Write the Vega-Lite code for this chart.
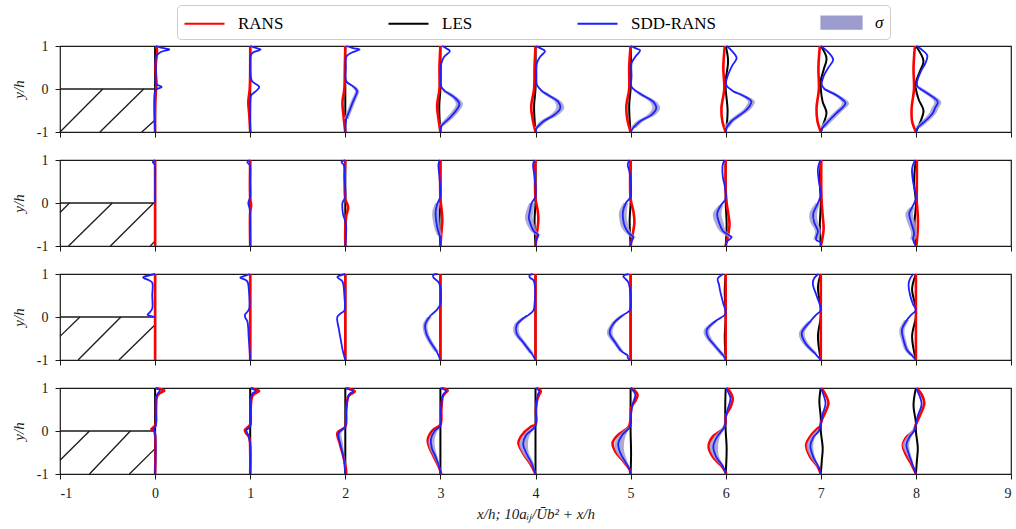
{
"$schema":"https://vega.github.io/schema/vega-lite/v6.json",
"padding":{"left":10,"top":4,"right":2,"bottom":2},
"bounds":"flush",
"spacing":28,
"datasets":{
"h":[
{"p":1,"x":-1,"y":0,"x2":0,"y2":0},{"p":1,"x":0,"y":0,"x2":0,"y2":-1},{"p":1,"x":-1,"y":-1,"x2":-0.55,"y2":0},{"p":1,"x":-0.58,"y":-1,"x2":-0.12,"y2":0},{"p":1,"x":-0.14,"y":-1,"x2":0,"y2":-0.72},
{"p":2,"x":-1,"y":0,"x2":0,"y2":0},{"p":2,"x":0,"y":0,"x2":0,"y2":-1},{"p":2,"x":-1,"y":-0.22,"x2":-0.9,"y2":0},{"p":2,"x":-0.91,"y":-1,"x2":-0.45,"y2":0},{"p":2,"x":-0.47,"y":-1,"x2":-0.015,"y2":0},{"p":2,"x":-0.05,"y":-1,"x2":0,"y2":-0.88},
{"p":3,"x":-1,"y":0,"x2":0,"y2":0},{"p":3,"x":0,"y":0,"x2":0,"y2":-1},{"p":3,"x":-1,"y":-0.45,"x2":-0.79,"y2":0},{"p":3,"x":-0.81,"y":-1,"x2":-0.36,"y2":0},{"p":3,"x":-0.38,"y":-1,"x2":0,"y2":-0.18},
{"p":4,"x":-1,"y":0,"x2":0,"y2":0},{"p":4,"x":0,"y":0,"x2":0,"y2":-1},{"p":4,"x":-1,"y":-0.68,"x2":-0.69,"y2":0},{"p":4,"x":-0.69,"y":-1,"x2":-0.26,"y2":0},{"p":4,"x":-0.27,"y":-1,"x2":0,"y2":-0.41}
],
"r1":[
{"s":0,"y":1,"x":0.01},{"s":0,"y":0.9,"x":0.02},{"s":0,"y":0.5,"x":0.005},{"s":0,"y":0.1,"x":0.015},{"s":0,"y":0,"x":0.01},{"s":0,"y":-0.5,"x":0},{"s":0,"y":-1,"x":0},
{"s":1,"y":1,"x":1},{"s":1,"y":0.5,"x":1},{"s":1,"y":0,"x":0.995},{"s":1,"y":-0.3,"x":0.98},{"s":1,"y":-0.6,"x":0.99},{"s":1,"y":-1,"x":1},
{"s":2,"y":1,"x":2},{"s":2,"y":0.5,"x":1.995},{"s":2,"y":0,"x":1.99},{"s":2,"y":-0.3,"x":1.97},{"s":2,"y":-0.6,"x":1.98},{"s":2,"y":-1,"x":2},
{"s":3,"y":1,"x":3},{"s":3,"y":0.5,"x":2.99},{"s":3,"y":0,"x":2.99},{"s":3,"y":-0.4,"x":2.965},{"s":3,"y":-0.7,"x":2.98},{"s":3,"y":-1,"x":3},
{"s":4,"y":1,"x":4},{"s":4,"y":0.5,"x":3.99},{"s":4,"y":0,"x":3.985},{"s":4,"y":-0.4,"x":3.955},{"s":4,"y":-0.7,"x":3.97},{"s":4,"y":-1,"x":4},
{"s":5,"y":1,"x":5},{"s":5,"y":0.5,"x":4.985},{"s":5,"y":0,"x":4.985},{"s":5,"y":-0.4,"x":4.955},{"s":5,"y":-0.7,"x":4.965},{"s":5,"y":-1,"x":5},
{"s":6,"y":1,"x":5.99},{"s":6,"y":0.5,"x":5.975},{"s":6,"y":0,"x":5.985},{"s":6,"y":-0.45,"x":5.955},{"s":6,"y":-0.75,"x":5.965},{"s":6,"y":-1,"x":6},
{"s":7,"y":1,"x":6.99},{"s":7,"y":0.5,"x":6.975},{"s":7,"y":0,"x":6.98},{"s":7,"y":-0.45,"x":6.955},{"s":7,"y":-0.75,"x":6.965},{"s":7,"y":-1,"x":7},
{"s":8,"y":1,"x":7.99},{"s":8,"y":0.5,"x":7.975},{"s":8,"y":0,"x":7.98},{"s":8,"y":-0.45,"x":7.955},{"s":8,"y":-0.75,"x":7.96},{"s":8,"y":-1,"x":8}
],
"l1":[
{"s":0,"y":1,"x":0},{"s":0,"y":-1,"x":0},{"s":1,"y":1,"x":1},{"s":1,"y":-1,"x":1},{"s":2,"y":1,"x":2},{"s":2,"y":-1,"x":2},
{"s":3,"y":1,"x":3},{"s":3,"y":0,"x":3},{"s":3,"y":-0.4,"x":2.988},{"s":3,"y":-1,"x":3},
{"s":4,"y":1,"x":4},{"s":4,"y":0,"x":4},{"s":4,"y":-0.4,"x":3.985},{"s":4,"y":-1,"x":4},
{"s":5,"y":1,"x":5},{"s":5,"y":0.6,"x":5.005},{"s":5,"y":0,"x":5},{"s":5,"y":-0.4,"x":4.985},{"s":5,"y":-1,"x":5},
{"s":6,"y":1,"x":6},{"s":6,"y":0.65,"x":6.025},{"s":6,"y":0.2,"x":6},{"s":6,"y":0,"x":6},{"s":6,"y":-0.5,"x":6.02},{"s":6,"y":-0.85,"x":6.01},{"s":6,"y":-1,"x":6},
{"s":7,"y":1,"x":7},{"s":7,"y":0.72,"x":7.06},{"s":7,"y":0.45,"x":7.03},{"s":7,"y":0.2,"x":7},{"s":7,"y":0,"x":7},{"s":7,"y":-0.3,"x":7.02},{"s":7,"y":-0.55,"x":7.06},{"s":7,"y":-0.8,"x":7.03},{"s":7,"y":-1,"x":7},
{"s":8,"y":1,"x":8},{"s":8,"y":0.65,"x":8.08},{"s":8,"y":0.4,"x":8.04},{"s":8,"y":0.15,"x":8},{"s":8,"y":0,"x":8},{"s":8,"y":-0.25,"x":8.03},{"s":8,"y":-0.5,"x":8.08},{"s":8,"y":-0.8,"x":8.04},{"s":8,"y":-1,"x":8}
],
"d1":[
{"s":0,"y":1,"x":0.01},{"s":0,"y":0.96,"x":0.06},{"s":0,"y":0.92,"x":0.15},{"s":0,"y":0.86,"x":0.06},{"s":0,"y":0.75,"x":0.01},{"s":0,"y":0.4,"x":0.01},{"s":0,"y":0.12,"x":0.01},{"s":0,"y":0.05,"x":0.07},{"s":0,"y":0,"x":0.02},{"s":0,"y":-0.05,"x":0},{"s":0,"y":-1,"x":0},
{"s":1,"y":1,"x":1},{"s":1,"y":0.96,"x":1.05},{"s":1,"y":0.92,"x":1.11},{"s":1,"y":0.85,"x":1.03},{"s":1,"y":0.78,"x":1.005},{"s":1,"y":0.3,"x":1.005},{"s":1,"y":0.18,"x":1.02},{"s":1,"y":0.05,"x":1.095},{"s":1,"y":-0.05,"x":1.06},{"s":1,"y":-0.15,"x":1.01},{"s":1,"y":-0.4,"x":1},{"s":1,"y":-1,"x":1},
{"s":2,"y":1,"x":2.01},{"s":2,"y":0.95,"x":2.08},{"s":2,"y":0.92,"x":2.15},{"s":2,"y":0.85,"x":2.07},{"s":2,"y":0.75,"x":2.01},{"s":2,"y":0.5,"x":2.005},{"s":2,"y":0.18,"x":2.01},{"s":2,"y":0.05,"x":2.09},{"s":2,"y":-0.05,"x":2.125},{"s":2,"y":-0.15,"x":2.11},{"s":2,"y":-0.3,"x":2.08},{"s":2,"y":-0.5,"x":2.045},{"s":2,"y":-0.7,"x":2.01},{"s":2,"y":-1,"x":2},
{"s":3,"y":1,"x":3.02},{"s":3,"y":0.95,"x":3.06},{"s":3,"y":0.88,"x":3.1},{"s":3,"y":0.75,"x":3.04},{"s":3,"y":0.6,"x":3.01},{"s":3,"y":0.3,"x":3.005},{"s":3,"y":0.05,"x":3.01},{"s":3,"y":-0.05,"x":3.05},{"s":3,"y":-0.2,"x":3.15},{"s":3,"y":-0.35,"x":3.2},{"s":3,"y":-0.5,"x":3.165},{"s":3,"y":-0.7,"x":3.085},{"s":3,"y":-0.85,"x":3.015},{"s":3,"y":-1,"x":3},
{"s":4,"y":1,"x":4},{"s":4,"y":0.95,"x":4.05},{"s":4,"y":0.88,"x":4.1},{"s":4,"y":0.75,"x":4.05},{"s":4,"y":0.6,"x":4.015},{"s":4,"y":0.3,"x":4.01},{"s":4,"y":0.1,"x":4.015},{"s":4,"y":-0.05,"x":4.07},{"s":4,"y":-0.15,"x":4.14},{"s":4,"y":-0.3,"x":4.24},{"s":4,"y":-0.45,"x":4.26},{"s":4,"y":-0.6,"x":4.2},{"s":4,"y":-0.75,"x":4.085},{"s":4,"y":-0.9,"x":4.015},{"s":4,"y":-1,"x":4},
{"s":5,"y":1,"x":5},{"s":5,"y":0.95,"x":5.05},{"s":5,"y":0.9,"x":5.1},{"s":5,"y":0.75,"x":5.05},{"s":5,"y":0.6,"x":5.01},{"s":5,"y":0.3,"x":5.01},{"s":5,"y":0.05,"x":5.01},{"s":5,"y":-0.05,"x":5.06},{"s":5,"y":-0.15,"x":5.13},{"s":5,"y":-0.3,"x":5.24},{"s":5,"y":-0.45,"x":5.27},{"s":5,"y":-0.6,"x":5.22},{"s":5,"y":-0.75,"x":5.1},{"s":5,"y":-0.9,"x":5.03},{"s":5,"y":-1,"x":5},
{"s":6,"y":1,"x":6.01},{"s":6,"y":0.9,"x":6.06},{"s":6,"y":0.72,"x":6.115},{"s":6,"y":0.55,"x":6.07},{"s":6,"y":0.3,"x":6.02},{"s":6,"y":0.1,"x":6.005},{"s":6,"y":-0.05,"x":6.08},{"s":6,"y":-0.15,"x":6.18},{"s":6,"y":-0.29,"x":6.27},{"s":6,"y":-0.4,"x":6.25},{"s":6,"y":-0.52,"x":6.2},{"s":6,"y":-0.65,"x":6.12},{"s":6,"y":-0.75,"x":6.06},{"s":6,"y":-0.9,"x":6.01},{"s":6,"y":-1,"x":6},
{"s":7,"y":1,"x":7},{"s":7,"y":0.85,"x":7.08},{"s":7,"y":0.68,"x":7.13},{"s":7,"y":0.5,"x":7.08},{"s":7,"y":0.3,"x":7.03},{"s":7,"y":0.1,"x":7.01},{"s":7,"y":0,"x":7.04},{"s":7,"y":-0.15,"x":7.17},{"s":7,"y":-0.33,"x":7.26},{"s":7,"y":-0.45,"x":7.22},{"s":7,"y":-0.55,"x":7.17},{"s":7,"y":-0.75,"x":7.08},{"s":7,"y":-0.9,"x":7.02},{"s":7,"y":-1,"x":7},
{"s":8,"y":1,"x":8.01},{"s":8,"y":0.9,"x":8.07},{"s":8,"y":0.78,"x":8.12},{"s":8,"y":0.6,"x":8.1},{"s":8,"y":0.4,"x":8.05},{"s":8,"y":0.15,"x":8.01},{"s":8,"y":0.05,"x":8.02},{"s":8,"y":-0.1,"x":8.12},{"s":8,"y":-0.3,"x":8.23},{"s":8,"y":-0.45,"x":8.2},{"s":8,"y":-0.55,"x":8.18},{"s":8,"y":-0.7,"x":8.12},{"s":8,"y":-0.78,"x":8.08},{"s":8,"y":-0.9,"x":8.02},{"s":8,"y":-1,"x":8}
],
"b1":[
{"s":2,"y":0.05,"lo":2.066,"hi":2.114},{"s":2,"y":-0.05,"lo":2.101,"hi":2.149},{"s":2,"y":-0.15,"lo":2.086,"hi":2.134},{"s":2,"y":-0.3,"lo":2.056,"hi":2.104},{"s":2,"y":-0.5,"lo":2.021,"hi":2.069},{"s":2,"y":-0.7,"lo":1.986,"hi":2.034},
{"s":3,"y":-0.05,"lo":3.018,"hi":3.082},{"s":3,"y":-0.2,"lo":3.118,"hi":3.182},{"s":3,"y":-0.35,"lo":3.163,"hi":3.237},{"s":3,"y":-0.5,"lo":3.128,"hi":3.202},{"s":3,"y":-0.7,"lo":3.048,"hi":3.122},{"s":3,"y":-0.85,"lo":2.988,"hi":3.042},
{"s":4,"y":-0.05,"lo":4.043,"hi":4.097},{"s":4,"y":-0.15,"lo":4.108,"hi":4.172},{"s":4,"y":-0.3,"lo":4.203,"hi":4.277},{"s":4,"y":-0.45,"lo":4.218,"hi":4.302},{"s":4,"y":-0.6,"lo":4.158,"hi":4.242},{"s":4,"y":-0.75,"lo":4.048,"hi":4.122},{"s":4,"y":-0.9,"lo":3.988,"hi":4.042},
{"s":5,"y":-0.05,"lo":5.033,"hi":5.087},{"s":5,"y":-0.15,"lo":5.098,"hi":5.162},{"s":5,"y":-0.3,"lo":5.203,"hi":5.277},{"s":5,"y":-0.45,"lo":5.228,"hi":5.312},{"s":5,"y":-0.6,"lo":5.178,"hi":5.262},{"s":5,"y":-0.75,"lo":5.063,"hi":5.137},{"s":5,"y":-0.9,"lo":4.998,"hi":5.062},
{"s":6,"y":-0.05,"lo":6.053,"hi":6.107},{"s":6,"y":-0.15,"lo":6.148,"hi":6.212},{"s":6,"y":-0.29,"lo":6.233,"hi":6.307},{"s":6,"y":-0.4,"lo":6.213,"hi":6.287},{"s":6,"y":-0.52,"lo":6.163,"hi":6.237},{"s":6,"y":-0.65,"lo":6.083,"hi":6.157},{"s":6,"y":-0.75,"lo":6.028,"hi":6.092},{"s":6,"y":-0.9,"lo":5.983,"hi":6.037},
{"s":7,"y":0,"lo":7.013,"hi":7.067},{"s":7,"y":-0.15,"lo":7.138,"hi":7.202},{"s":7,"y":-0.33,"lo":7.223,"hi":7.297},{"s":7,"y":-0.45,"lo":7.183,"hi":7.257},{"s":7,"y":-0.55,"lo":7.133,"hi":7.207},{"s":7,"y":-0.75,"lo":7.043,"hi":7.117},{"s":7,"y":-0.9,"lo":6.988,"hi":7.052},
{"s":8,"y":0.05,"lo":7.993,"hi":8.047},{"s":8,"y":-0.1,"lo":8.088,"hi":8.152},{"s":8,"y":-0.3,"lo":8.193,"hi":8.267},{"s":8,"y":-0.45,"lo":8.163,"hi":8.237},{"s":8,"y":-0.55,"lo":8.143,"hi":8.217},{"s":8,"y":-0.7,"lo":8.083,"hi":8.157},{"s":8,"y":-0.78,"lo":8.043,"hi":8.117},{"s":8,"y":-0.9,"lo":7.988,"hi":8.052}
],
"r2":[
{"s":0,"y":1,"x":0},{"s":0,"y":-1,"x":0},
{"s":1,"y":1,"x":1},{"s":1,"y":0.1,"x":1},{"s":1,"y":-0.05,"x":1.01},{"s":1,"y":-0.2,"x":1},{"s":1,"y":-1,"x":1},
{"s":2,"y":1,"x":2},{"s":2,"y":0.1,"x":2},{"s":2,"y":-0.1,"x":2.03},{"s":2,"y":-0.3,"x":2.01},{"s":2,"y":-0.6,"x":2},{"s":2,"y":-1,"x":2},
{"s":3,"y":1,"x":3},{"s":3,"y":0.1,"x":3},{"s":3,"y":-0.2,"x":3.015},{"s":3,"y":-0.4,"x":3.02},{"s":3,"y":-0.7,"x":3.01},{"s":3,"y":-1,"x":3},
{"s":4,"y":1,"x":4},{"s":4,"y":0.1,"x":4},{"s":4,"y":-0.2,"x":4.025},{"s":4,"y":-0.4,"x":4.03},{"s":4,"y":-0.7,"x":4.015},{"s":4,"y":-1,"x":4},
{"s":5,"y":1,"x":5},{"s":5,"y":0.1,"x":5},{"s":5,"y":-0.2,"x":5.03},{"s":5,"y":-0.45,"x":5.04},{"s":5,"y":-0.75,"x":5.02},{"s":5,"y":-1,"x":5},
{"s":6,"y":1,"x":6},{"s":6,"y":0.3,"x":6},{"s":6,"y":0,"x":6.01},{"s":6,"y":-0.3,"x":6.03},{"s":6,"y":-0.5,"x":6.04},{"s":6,"y":-0.8,"x":6.02},{"s":6,"y":-1,"x":6},
{"s":7,"y":1,"x":7.005},{"s":7,"y":0.3,"x":7.005},{"s":7,"y":0,"x":7.01},{"s":7,"y":-0.3,"x":7.02},{"s":7,"y":-0.6,"x":7.03},{"s":7,"y":-0.85,"x":7.015},{"s":7,"y":-1,"x":7},
{"s":8,"y":1,"x":8.01},{"s":8,"y":0.5,"x":8.01},{"s":8,"y":0,"x":8.01},{"s":8,"y":-0.3,"x":8.02},{"s":8,"y":-0.6,"x":8.02},{"s":8,"y":-1,"x":8.005}
],
"l2":[
{"s":0,"y":1,"x":0},{"s":0,"y":-1,"x":0},{"s":1,"y":1,"x":1},{"s":1,"y":-1,"x":1},{"s":2,"y":1,"x":2},{"s":2,"y":-1,"x":2},
{"s":3,"y":1,"x":3},{"s":3,"y":0,"x":3},{"s":3,"y":-0.4,"x":2.99},{"s":3,"y":-1,"x":3},
{"s":4,"y":1,"x":4},{"s":4,"y":0,"x":4},{"s":4,"y":-0.4,"x":3.99},{"s":4,"y":-1,"x":4},
{"s":5,"y":1,"x":5},{"s":5,"y":0,"x":5},{"s":5,"y":-0.4,"x":4.99},{"s":5,"y":-1,"x":5},
{"s":6,"y":1,"x":6},{"s":6,"y":0,"x":6},{"s":6,"y":-0.5,"x":6.01},{"s":6,"y":-1,"x":6},
{"s":7,"y":1,"x":7},{"s":7,"y":0.5,"x":6.99},{"s":7,"y":0,"x":7},{"s":7,"y":-0.5,"x":6.99},{"s":7,"y":-1,"x":7},
{"s":8,"y":1,"x":8},{"s":8,"y":0.5,"x":7.98},{"s":8,"y":0,"x":8},{"s":8,"y":-0.5,"x":7.985},{"s":8,"y":-1,"x":8}
],
"d2":[
{"s":0,"y":1,"x":0},{"s":0,"y":0.95,"x":-0.025},{"s":0,"y":0.9,"x":-0.005},{"s":0,"y":0.5,"x":0},{"s":0,"y":0,"x":0},
{"s":1,"y":1,"x":1},{"s":1,"y":0.95,"x":0.97},{"s":1,"y":0.88,"x":0.995},{"s":1,"y":0.5,"x":1},{"s":1,"y":0.15,"x":1},{"s":1,"y":0,"x":0.98},{"s":1,"y":-0.15,"x":0.995},{"s":1,"y":-1,"x":1},
{"s":2,"y":1,"x":2},{"s":2,"y":0.95,"x":1.96},{"s":2,"y":0.88,"x":1.985},{"s":2,"y":0.6,"x":1.99},{"s":2,"y":0.15,"x":2},{"s":2,"y":0,"x":1.97},{"s":2,"y":-0.15,"x":1.97},{"s":2,"y":-0.3,"x":1.98},{"s":2,"y":-0.45,"x":2.005},{"s":2,"y":-0.6,"x":2.01},{"s":2,"y":-1,"x":2},
{"s":3,"y":1,"x":2.995},{"s":3,"y":0.9,"x":2.98},{"s":3,"y":0.6,"x":2.99},{"s":3,"y":0.15,"x":3},{"s":3,"y":0,"x":2.97},{"s":3,"y":-0.2,"x":2.95},{"s":3,"y":-0.4,"x":2.955},{"s":3,"y":-0.6,"x":2.97},{"s":3,"y":-0.75,"x":2.99},{"s":3,"y":-0.85,"x":3},{"s":3,"y":-1,"x":3},
{"s":4,"y":1,"x":3.99},{"s":4,"y":0.9,"x":3.975},{"s":4,"y":0.6,"x":3.99},{"s":4,"y":0.15,"x":4},{"s":4,"y":0,"x":3.96},{"s":4,"y":-0.2,"x":3.94},{"s":4,"y":-0.35,"x":3.93},{"s":4,"y":-0.5,"x":3.95},{"s":4,"y":-0.65,"x":3.98},{"s":4,"y":-0.75,"x":4.03},{"s":4,"y":-0.85,"x":4.01},{"s":4,"y":-1,"x":4},
{"s":5,"y":1,"x":4.99},{"s":5,"y":0.9,"x":4.97},{"s":5,"y":0.7,"x":4.99},{"s":5,"y":0.15,"x":5},{"s":5,"y":0,"x":4.95},{"s":5,"y":-0.2,"x":4.92},{"s":5,"y":-0.35,"x":4.92},{"s":5,"y":-0.55,"x":4.94},{"s":5,"y":-0.7,"x":4.98},{"s":5,"y":-0.8,"x":5.03},{"s":5,"y":-0.9,"x":5.005},{"s":5,"y":-1,"x":5},
{"s":6,"y":1,"x":5.99},{"s":6,"y":0.9,"x":5.97},{"s":6,"y":0.6,"x":5.97},{"s":6,"y":0.4,"x":5.99},{"s":6,"y":0.1,"x":6},{"s":6,"y":-0.05,"x":5.95},{"s":6,"y":-0.25,"x":5.91},{"s":6,"y":-0.45,"x":5.93},{"s":6,"y":-0.65,"x":5.97},{"s":6,"y":-0.8,"x":6.06},{"s":6,"y":-0.9,"x":6.01},{"s":6,"y":-1,"x":6},
{"s":7,"y":1,"x":6.995},{"s":7,"y":0.8,"x":6.97},{"s":7,"y":0.5,"x":6.98},{"s":7,"y":0.2,"x":7},{"s":7,"y":0,"x":6.97},{"s":7,"y":-0.25,"x":6.92},{"s":7,"y":-0.45,"x":6.93},{"s":7,"y":-0.65,"x":6.97},{"s":7,"y":-0.85,"x":6.95},{"s":7,"y":-0.92,"x":7},{"s":7,"y":-1,"x":7},
{"s":8,"y":1,"x":7.99},{"s":8,"y":0.8,"x":7.96},{"s":8,"y":0.5,"x":7.97},{"s":8,"y":0.3,"x":7.99},{"s":8,"y":0.1,"x":8},{"s":8,"y":-0.1,"x":7.96},{"s":8,"y":-0.25,"x":7.93},{"s":8,"y":-0.45,"x":7.95},{"s":8,"y":-0.7,"x":7.98},{"s":8,"y":-0.85,"x":7.97},{"s":8,"y":-1,"x":8}
],
"b2":[
{"s":3,"y":0,"lo":2.945,"hi":2.995},{"s":3,"y":-0.2,"lo":2.915,"hi":2.985},{"s":3,"y":-0.4,"lo":2.92,"hi":2.99},{"s":3,"y":-0.6,"lo":2.94,"hi":3.0},{"s":3,"y":-0.75,"lo":2.965,"hi":3.015},
{"s":4,"y":0,"lo":3.935,"hi":3.985},{"s":4,"y":-0.2,"lo":3.9,"hi":3.98},{"s":4,"y":-0.35,"lo":3.89,"hi":3.97},{"s":4,"y":-0.5,"lo":3.91,"hi":3.99},{"s":4,"y":-0.65,"lo":3.95,"hi":4.01},{"s":4,"y":-0.75,"lo":4.0,"hi":4.06},
{"s":5,"y":0,"lo":4.925,"hi":4.975},{"s":5,"y":-0.2,"lo":4.88,"hi":4.96},{"s":5,"y":-0.35,"lo":4.88,"hi":4.96},{"s":5,"y":-0.55,"lo":4.9,"hi":4.98},{"s":5,"y":-0.7,"lo":4.95,"hi":5.01},{"s":5,"y":-0.8,"lo":5.0,"hi":5.06},
{"s":6,"y":-0.05,"lo":5.925,"hi":5.975},{"s":6,"y":-0.25,"lo":5.865,"hi":5.955},{"s":6,"y":-0.45,"lo":5.885,"hi":5.975},{"s":6,"y":-0.65,"lo":5.935,"hi":6.005},{"s":6,"y":-0.8,"lo":6.03,"hi":6.09},
{"s":7,"y":0,"lo":6.945,"hi":6.995},{"s":7,"y":-0.25,"lo":6.88,"hi":6.96},{"s":7,"y":-0.45,"lo":6.89,"hi":6.97},{"s":7,"y":-0.65,"lo":6.94,"hi":7.0},{"s":7,"y":-0.85,"lo":6.92,"hi":6.98},
{"s":8,"y":-0.1,"lo":7.935,"hi":7.985},{"s":8,"y":-0.25,"lo":7.89,"hi":7.97},{"s":8,"y":-0.45,"lo":7.91,"hi":7.99},{"s":8,"y":-0.7,"lo":7.95,"hi":8.01},{"s":8,"y":-0.85,"lo":7.94,"hi":8.0}
],
"r3":[
{"s":0,"y":1,"x":0},{"s":0,"y":-1,"x":0},{"s":1,"y":1,"x":1},{"s":1,"y":-1,"x":1},{"s":2,"y":1,"x":2},{"s":2,"y":-1,"x":2},{"s":3,"y":1,"x":3},{"s":3,"y":-1,"x":3},{"s":4,"y":1,"x":4},{"s":4,"y":-1,"x":4},{"s":5,"y":1,"x":5},{"s":5,"y":-1,"x":5},{"s":6,"y":1,"x":6},{"s":6,"y":-1,"x":6},{"s":7,"y":1,"x":7},{"s":7,"y":-1,"x":7},{"s":8,"y":1,"x":8},{"s":8,"y":-1,"x":8}
],
"l3":[
{"s":0,"y":1,"x":0},{"s":0,"y":-1,"x":0},{"s":1,"y":1,"x":1},{"s":1,"y":-1,"x":1},{"s":2,"y":1,"x":2},{"s":2,"y":-1,"x":2},{"s":3,"y":1,"x":3},{"s":3,"y":-1,"x":3},{"s":4,"y":1,"x":4},{"s":4,"y":-1,"x":4},{"s":5,"y":1,"x":5},{"s":5,"y":-1,"x":5},
{"s":6,"y":1,"x":6},{"s":6,"y":0.6,"x":5.99},{"s":6,"y":0,"x":6},{"s":6,"y":-0.45,"x":5.99},{"s":6,"y":-1,"x":6},
{"s":7,"y":1,"x":7},{"s":7,"y":0.7,"x":6.97},{"s":7,"y":0.2,"x":7},{"s":7,"y":0,"x":7},{"s":7,"y":-0.45,"x":6.97},{"s":7,"y":-1,"x":7},
{"s":8,"y":1,"x":8},{"s":8,"y":0.65,"x":7.96},{"s":8,"y":0.2,"x":8},{"s":8,"y":0,"x":8},{"s":8,"y":-0.45,"x":7.96},{"s":8,"y":-1,"x":8}
],
"d3":[
{"s":0,"y":1,"x":0},{"s":0,"y":0.97,"x":-0.06},{"s":0,"y":0.92,"x":-0.126},{"s":0,"y":0.85,"x":-0.06},{"s":0,"y":0.8,"x":-0.03},{"s":0,"y":0.5,"x":-0.03},{"s":0,"y":0.2,"x":-0.03},{"s":0,"y":0.1,"x":-0.06},{"s":0,"y":0.05,"x":-0.08},{"s":0,"y":0.02,"x":-0.04},{"s":0,"y":0,"x":0},
{"s":1,"y":1,"x":1},{"s":1,"y":0.96,"x":0.95},{"s":1,"y":0.92,"x":0.895},{"s":1,"y":0.85,"x":0.96},{"s":1,"y":0.8,"x":0.975},{"s":1,"y":0.5,"x":0.99},{"s":1,"y":0.2,"x":0.99},{"s":1,"y":0.12,"x":0.97},{"s":1,"y":0.05,"x":0.944},{"s":1,"y":-0.02,"x":0.95},{"s":1,"y":-0.1,"x":0.97},{"s":1,"y":-0.5,"x":0.985},{"s":1,"y":-1,"x":1},
{"s":2,"y":1,"x":2},{"s":2,"y":0.97,"x":1.95},{"s":2,"y":0.93,"x":1.916},{"s":2,"y":0.85,"x":1.96},{"s":2,"y":0.8,"x":1.975},{"s":2,"y":0.5,"x":1.99},{"s":2,"y":0.15,"x":1.99},{"s":2,"y":0.08,"x":1.95},{"s":2,"y":0,"x":1.916},{"s":2,"y":-0.3,"x":1.934},{"s":2,"y":-0.6,"x":1.958},{"s":2,"y":-0.8,"x":1.975},{"s":2,"y":-1,"x":2},
{"s":3,"y":1,"x":2.97},{"s":3,"y":0.98,"x":2.926},{"s":3,"y":0.92,"x":2.926},{"s":3,"y":0.81,"x":2.98},{"s":3,"y":0.7,"x":3},{"s":3,"y":0.3,"x":3},{"s":3,"y":0.16,"x":2.96},{"s":3,"y":0.08,"x":2.92},{"s":3,"y":0,"x":2.884},{"s":3,"y":-0.18,"x":2.84},{"s":3,"y":-0.37,"x":2.85},{"s":3,"y":-0.6,"x":2.9},{"s":3,"y":-0.8,"x":2.96},{"s":3,"y":-1,"x":3},
{"s":4,"y":1,"x":3.97},{"s":4,"y":0.97,"x":3.937},{"s":4,"y":0.92,"x":3.94},{"s":4,"y":0.85,"x":3.98},{"s":4,"y":0.62,"x":3.997},{"s":4,"y":0.3,"x":3.99},{"s":4,"y":0.16,"x":3.98},{"s":4,"y":0.05,"x":3.93},{"s":4,"y":0,"x":3.89},{"s":4,"y":-0.18,"x":3.804},{"s":4,"y":-0.37,"x":3.8},{"s":4,"y":-0.6,"x":3.874},{"s":4,"y":-0.85,"x":3.96},{"s":4,"y":-1,"x":4},
{"s":5,"y":1,"x":4.98},{"s":5,"y":0.95,"x":4.923},{"s":5,"y":0.9,"x":4.94},{"s":5,"y":0.81,"x":4.975},{"s":5,"y":0.65,"x":4.993},{"s":5,"y":0.16,"x":4.993},{"s":5,"y":0.05,"x":4.923},{"s":5,"y":-0.15,"x":4.82},{"s":5,"y":-0.37,"x":4.78},{"s":5,"y":-0.6,"x":4.84},{"s":5,"y":-0.8,"x":4.905},{"s":5,"y":-0.9,"x":4.97},{"s":5,"y":-0.95,"x":4.97},{"s":5,"y":-1,"x":5},
{"s":6,"y":1,"x":5.975},{"s":6,"y":0.89,"x":5.916},{"s":6,"y":0.75,"x":5.93},{"s":6,"y":0.62,"x":5.94},{"s":6,"y":0.31,"x":5.975},{"s":6,"y":0.08,"x":6},{"s":6,"y":-0.1,"x":5.89},{"s":6,"y":-0.3,"x":5.8},{"s":6,"y":-0.45,"x":5.81},{"s":6,"y":-0.68,"x":5.89},{"s":6,"y":-0.9,"x":5.975},{"s":6,"y":-1,"x":6},
{"s":7,"y":1,"x":6.975},{"s":7,"y":0.9,"x":6.93},{"s":7,"y":0.77,"x":6.916},{"s":7,"y":0.47,"x":6.96},{"s":7,"y":0.16,"x":7},{"s":7,"y":0.05,"x":6.95},{"s":7,"y":-0.1,"x":6.89},{"s":7,"y":-0.37,"x":6.8},{"s":7,"y":-0.6,"x":6.835},{"s":7,"y":-0.85,"x":6.94},{"s":7,"y":-1,"x":7},
{"s":8,"y":1,"x":7.975},{"s":8,"y":0.9,"x":7.94},{"s":8,"y":0.77,"x":7.923},{"s":8,"y":0.5,"x":7.94},{"s":8,"y":0.3,"x":7.97},{"s":8,"y":0.16,"x":8},{"s":8,"y":0.05,"x":7.95},{"s":8,"y":-0.07,"x":7.905},{"s":8,"y":-0.3,"x":7.853},{"s":8,"y":-0.53,"x":7.87},{"s":8,"y":-0.76,"x":7.905},{"s":8,"y":-0.9,"x":7.96},{"s":8,"y":-1,"x":8}
],
"b3":[
{"s":3,"y":0,"lo":2.86,"hi":2.91},{"s":3,"y":-0.18,"lo":2.815,"hi":2.865},{"s":3,"y":-0.37,"lo":2.825,"hi":2.875},{"s":3,"y":-0.6,"lo":2.875,"hi":2.925},{"s":3,"y":-0.8,"lo":2.935,"hi":2.985},
{"s":4,"y":0,"lo":3.865,"hi":3.915},{"s":4,"y":-0.18,"lo":3.775,"hi":3.83},{"s":4,"y":-0.37,"lo":3.77,"hi":3.83},{"s":4,"y":-0.6,"lo":3.85,"hi":3.9},{"s":4,"y":-0.85,"lo":3.935,"hi":3.985},
{"s":5,"y":0.05,"lo":4.898,"hi":4.948},{"s":5,"y":-0.15,"lo":4.795,"hi":4.845},{"s":5,"y":-0.37,"lo":4.75,"hi":4.81},{"s":5,"y":-0.6,"lo":4.815,"hi":4.865},{"s":5,"y":-0.8,"lo":4.88,"hi":4.93},
{"s":6,"y":-0.1,"lo":5.865,"hi":5.915},{"s":6,"y":-0.3,"lo":5.77,"hi":5.83},{"s":6,"y":-0.45,"lo":5.78,"hi":5.84},{"s":6,"y":-0.68,"lo":5.865,"hi":5.915},{"s":6,"y":-0.9,"lo":5.95,"hi":6.0},
{"s":7,"y":-0.1,"lo":6.865,"hi":6.915},{"s":7,"y":-0.37,"lo":6.77,"hi":6.83},{"s":7,"y":-0.6,"lo":6.805,"hi":6.865},{"s":7,"y":-0.85,"lo":6.915,"hi":6.965},
{"s":8,"y":-0.07,"lo":7.88,"hi":7.93},{"s":8,"y":-0.3,"lo":7.825,"hi":7.88},{"s":8,"y":-0.53,"lo":7.845,"hi":7.895},{"s":8,"y":-0.76,"lo":7.88,"hi":7.93},{"s":8,"y":-0.9,"lo":7.935,"hi":7.985}
],
"r4":[
{"s":0,"y":1,"x":0.01},{"s":0,"y":0.97,"x":0.06},{"s":0,"y":0.94,"x":0.098},{"s":0,"y":0.88,"x":0.05},{"s":0,"y":0.8,"x":0.02},{"s":0,"y":0.5,"x":0.01},{"s":0,"y":0.15,"x":0.005},{"s":0,"y":0.08,"x":-0.02},{"s":0,"y":0.04,"x":-0.04},{"s":0,"y":0,"x":-0.01},{"s":0,"y":-0.1,"x":0},{"s":0,"y":-1,"x":0},
{"s":1,"y":1,"x":1.01},{"s":1,"y":0.96,"x":1.06},{"s":1,"y":0.93,"x":1.095},{"s":1,"y":0.87,"x":1.05},{"s":1,"y":0.8,"x":1.02},{"s":1,"y":0.5,"x":1.005},{"s":1,"y":0.15,"x":1},{"s":1,"y":0.08,"x":0.97},{"s":1,"y":0.02,"x":0.944},{"s":1,"y":-0.06,"x":0.96},{"s":1,"y":-0.15,"x":0.99},{"s":1,"y":-0.5,"x":1},{"s":1,"y":-1,"x":1},
{"s":2,"y":1,"x":2.01},{"s":2,"y":0.96,"x":2.07},{"s":2,"y":0.92,"x":2.1},{"s":2,"y":0.86,"x":2.06},{"s":2,"y":0.8,"x":2.03},{"s":2,"y":0.5,"x":2.01},{"s":2,"y":0.1,"x":2},{"s":2,"y":0.02,"x":1.95},{"s":2,"y":-0.05,"x":1.916},{"s":2,"y":-0.28,"x":1.94},{"s":2,"y":-0.6,"x":1.98},{"s":2,"y":-0.85,"x":2.005},{"s":2,"y":-1,"x":2.01},
{"s":3,"y":1,"x":3.01},{"s":3,"y":0.97,"x":3.06},{"s":3,"y":0.94,"x":3.077},{"s":3,"y":0.88,"x":3.05},{"s":3,"y":0.8,"x":3.025},{"s":3,"y":0.5,"x":3.01},{"s":3,"y":0.15,"x":3},{"s":3,"y":0.02,"x":2.92},{"s":3,"y":-0.2,"x":2.867},{"s":3,"y":-0.36,"x":2.88},{"s":3,"y":-0.6,"x":2.93},{"s":3,"y":-0.82,"x":2.98},{"s":3,"y":-1,"x":3.01},
{"s":4,"y":1,"x":4.01},{"s":4,"y":0.96,"x":4.045},{"s":4,"y":0.92,"x":4.056},{"s":4,"y":0.85,"x":4.04},{"s":4,"y":0.7,"x":4.015},{"s":4,"y":0.5,"x":4.005},{"s":4,"y":0.15,"x":4},{"s":4,"y":0.1,"x":3.95},{"s":4,"y":-0.13,"x":3.845},{"s":4,"y":-0.28,"x":3.82},{"s":4,"y":-0.52,"x":3.87},{"s":4,"y":-0.78,"x":3.95},{"s":4,"y":-1,"x":4},
{"s":5,"y":1,"x":5},{"s":5,"y":0.95,"x":5.04},{"s":5,"y":0.84,"x":5.074},{"s":5,"y":0.7,"x":5.05},{"s":5,"y":0.55,"x":5.007},{"s":5,"y":0.3,"x":5},{"s":5,"y":0.1,"x":4.98},{"s":5,"y":-0.1,"x":4.864},{"s":5,"y":-0.28,"x":4.81},{"s":5,"y":-0.48,"x":4.84},{"s":5,"y":-0.71,"x":4.926},{"s":5,"y":-0.9,"x":4.99},{"s":5,"y":-1,"x":5},
{"s":6,"y":1,"x":6.01},{"s":6,"y":0.9,"x":6.05},{"s":6,"y":0.76,"x":6.074},{"s":6,"y":0.55,"x":6.05},{"s":6,"y":0.35,"x":6},{"s":6,"y":0.2,"x":6},{"s":6,"y":0.06,"x":5.975},{"s":6,"y":-0.13,"x":5.864},{"s":6,"y":-0.36,"x":5.82},{"s":6,"y":-0.6,"x":5.864},{"s":6,"y":-0.82,"x":5.958},{"s":6,"y":-1,"x":6.01},
{"s":7,"y":1,"x":7.005},{"s":7,"y":0.85,"x":7.05},{"s":7,"y":0.64,"x":7.08},{"s":7,"y":0.45,"x":7.05},{"s":7,"y":0.25,"x":7.01},{"s":7,"y":0.1,"x":6.99},{"s":7,"y":0.06,"x":6.965},{"s":7,"y":-0.13,"x":6.888},{"s":7,"y":-0.32,"x":6.846},{"s":7,"y":-0.6,"x":6.888},{"s":7,"y":-0.82,"x":6.965},{"s":7,"y":-1,"x":7},
{"s":8,"y":1,"x":8.01},{"s":8,"y":0.85,"x":8.06},{"s":8,"y":0.64,"x":8.088},{"s":8,"y":0.4,"x":8.05},{"s":8,"y":0.15,"x":8},{"s":8,"y":0,"x":7.975},{"s":8,"y":-0.13,"x":7.905},{"s":8,"y":-0.32,"x":7.863},{"s":8,"y":-0.52,"x":7.888},{"s":8,"y":-0.75,"x":7.947},{"s":8,"y":-0.9,"x":7.98},{"s":8,"y":-1,"x":8}
],
"l4":[
{"s":0,"y":1,"x":0},{"s":0,"y":-1,"x":0},{"s":1,"y":1,"x":1},{"s":1,"y":-1,"x":1},{"s":2,"y":1,"x":2},{"s":2,"y":-1,"x":2},{"s":3,"y":1,"x":3},{"s":3,"y":-1,"x":3},{"s":4,"y":1,"x":4},{"s":4,"y":-1,"x":4},
{"s":5,"y":1,"x":5},{"s":5,"y":0,"x":5},{"s":5,"y":-0.5,"x":5.005},{"s":5,"y":-1,"x":5},
{"s":6,"y":1,"x":6},{"s":6,"y":0.5,"x":5.995},{"s":6,"y":0,"x":6},{"s":6,"y":-0.4,"x":6.01},{"s":6,"y":-1,"x":6},
{"s":7,"y":1,"x":7},{"s":7,"y":0.7,"x":6.985},{"s":7,"y":0.3,"x":7},{"s":7,"y":0,"x":7},{"s":7,"y":-0.4,"x":7.02},{"s":7,"y":-0.7,"x":7.01},{"s":7,"y":-1,"x":7},
{"s":8,"y":1,"x":8},{"s":8,"y":0.6,"x":7.975},{"s":8,"y":0.2,"x":8},{"s":8,"y":0,"x":8},{"s":8,"y":-0.4,"x":8.02},{"s":8,"y":-0.7,"x":8.01},{"s":8,"y":-1,"x":8}
],
"d4":[
{"s":0,"y":1,"x":0.005},{"s":0,"y":0.94,"x":0.05},{"s":0,"y":0.88,"x":0.03},{"s":0,"y":0.8,"x":0.01},{"s":0,"y":0.1,"x":0.005},{"s":0,"y":0.04,"x":-0.02},{"s":0,"y":0,"x":-0.005},{"s":0,"y":-1,"x":0},
{"s":1,"y":1,"x":1.005},{"s":1,"y":0.93,"x":1.06},{"s":1,"y":0.86,"x":1.02},{"s":1,"y":0.5,"x":1.005},{"s":1,"y":0.1,"x":1},{"s":1,"y":0.02,"x":0.96},{"s":1,"y":-0.1,"x":0.98},{"s":1,"y":-0.3,"x":1},{"s":1,"y":-1,"x":1},
{"s":2,"y":1,"x":2},{"s":2,"y":0.92,"x":2.08},{"s":2,"y":0.85,"x":2.04},{"s":2,"y":0.5,"x":2.01},{"s":2,"y":0.1,"x":2},{"s":2,"y":-0.05,"x":1.93},{"s":2,"y":-0.28,"x":1.945},{"s":2,"y":-0.6,"x":1.98},{"s":2,"y":-1,"x":2},
{"s":3,"y":1,"x":3},{"s":3,"y":0.93,"x":3.06},{"s":3,"y":0.85,"x":3.03},{"s":3,"y":0.5,"x":3.005},{"s":3,"y":0.12,"x":3},{"s":3,"y":0,"x":2.94},{"s":3,"y":-0.2,"x":2.9},{"s":3,"y":-0.4,"x":2.91},{"s":3,"y":-0.6,"x":2.95},{"s":3,"y":-0.85,"x":2.99},{"s":3,"y":-1,"x":3},
{"s":4,"y":1,"x":4},{"s":4,"y":0.93,"x":4.04},{"s":4,"y":0.85,"x":4.025},{"s":4,"y":0.5,"x":4.005},{"s":4,"y":0.12,"x":4},{"s":4,"y":-0.1,"x":3.9},{"s":4,"y":-0.3,"x":3.87},{"s":4,"y":-0.5,"x":3.9},{"s":4,"y":-0.75,"x":3.96},{"s":4,"y":-1,"x":4},
{"s":5,"y":1,"x":5},{"s":5,"y":0.85,"x":5.05},{"s":5,"y":0.65,"x":5.025},{"s":5,"y":0.4,"x":5.005},{"s":5,"y":0.12,"x":5},{"s":5,"y":-0.1,"x":4.91},{"s":5,"y":-0.3,"x":4.87},{"s":5,"y":-0.5,"x":4.89},{"s":5,"y":-0.7,"x":4.94},{"s":5,"y":-0.9,"x":4.99},{"s":5,"y":-1,"x":5},
{"s":6,"y":1,"x":6},{"s":6,"y":0.76,"x":6.05},{"s":6,"y":0.5,"x":6.02},{"s":6,"y":0.3,"x":6},{"s":6,"y":0.1,"x":5.99},{"s":6,"y":-0.13,"x":5.91},{"s":6,"y":-0.36,"x":5.87},{"s":6,"y":-0.6,"x":5.9},{"s":6,"y":-0.82,"x":5.97},{"s":6,"y":-1,"x":6},
{"s":7,"y":1,"x":7},{"s":7,"y":0.64,"x":7.05},{"s":7,"y":0.4,"x":7.02},{"s":7,"y":0.15,"x":7},{"s":7,"y":0,"x":6.98},{"s":7,"y":-0.15,"x":6.92},{"s":7,"y":-0.35,"x":6.89},{"s":7,"y":-0.6,"x":6.92},{"s":7,"y":-0.85,"x":6.98},{"s":7,"y":-1,"x":7},
{"s":8,"y":1,"x":8},{"s":8,"y":0.64,"x":8.06},{"s":8,"y":0.35,"x":8.02},{"s":8,"y":0.15,"x":8},{"s":8,"y":0,"x":7.98},{"s":8,"y":-0.15,"x":7.93},{"s":8,"y":-0.32,"x":7.9},{"s":8,"y":-0.5,"x":7.92},{"s":8,"y":-0.75,"x":7.96},{"s":8,"y":-1,"x":8}
],
"b4":[
{"s":2,"y":0.05,"lo":1.985,"hi":2.0},{"s":2,"y":-0.05,"lo":1.925,"hi":1.96},{"s":2,"y":-0.28,"lo":1.945,"hi":1.975},{"s":2,"y":-0.6,"lo":1.975,"hi":1.99},{"s":2,"y":-0.85,"lo":1.995,"hi":2.005},
{"s":3,"y":0.08,"lo":2.98,"hi":3.0},{"s":3,"y":0,"lo":2.93,"hi":2.97},{"s":3,"y":-0.2,"lo":2.875,"hi":2.94},{"s":3,"y":-0.4,"lo":2.885,"hi":2.945},{"s":3,"y":-0.6,"lo":2.93,"hi":2.97},{"s":3,"y":-0.85,"lo":2.98,"hi":3.0},
{"s":4,"y":0.1,"lo":3.97,"hi":4.0},{"s":4,"y":-0.1,"lo":3.87,"hi":3.94},{"s":4,"y":-0.3,"lo":3.83,"hi":3.92},{"s":4,"y":-0.5,"lo":3.86,"hi":3.93},{"s":4,"y":-0.75,"lo":3.94,"hi":3.98},{"s":4,"y":-0.95,"lo":3.99,"hi":4.0},
{"s":5,"y":0.1,"lo":4.975,"hi":5.0},{"s":5,"y":-0.1,"lo":4.88,"hi":4.95},{"s":5,"y":-0.3,"lo":4.83,"hi":4.93},{"s":5,"y":-0.5,"lo":4.85,"hi":4.935},{"s":5,"y":-0.7,"lo":4.92,"hi":4.965},{"s":5,"y":-0.9,"lo":4.985,"hi":5.0},
{"s":6,"y":0.1,"lo":5.98,"hi":6.0},{"s":6,"y":-0.13,"lo":5.88,"hi":5.94},{"s":6,"y":-0.36,"lo":5.83,"hi":5.92},{"s":6,"y":-0.6,"lo":5.87,"hi":5.93},{"s":6,"y":-0.82,"lo":5.96,"hi":5.985},
{"s":7,"y":0.05,"lo":6.97,"hi":6.995},{"s":7,"y":-0.15,"lo":6.89,"hi":6.94},{"s":7,"y":-0.35,"lo":6.85,"hi":6.92},{"s":7,"y":-0.6,"lo":6.89,"hi":6.94},{"s":7,"y":-0.85,"lo":6.97,"hi":6.99},
{"s":8,"y":0.05,"lo":7.97,"hi":7.995},{"s":8,"y":-0.15,"lo":7.9,"hi":7.95},{"s":8,"y":-0.32,"lo":7.86,"hi":7.93},{"s":8,"y":-0.5,"lo":7.89,"hi":7.94},{"s":8,"y":-0.75,"lo":7.95,"hi":7.975}
]
},
"resolve":{"scale":{"x":"independent","y":"independent","color":"shared"},"axis":{"x":"independent","y":"independent"},"legend":{"color":"shared"}},
"vconcat":[
{"width":951,"height":86,
"encoding":{"x":{"field":"x","type":"quantitative","scale":{"domain":[-1,9],"nice":false,"zero":false},"axis":{"values":[-1,0,1,2,3,4,5,6,7,8,9],"labels":false,"title":null}},"y":{"field":"y","type":"quantitative","scale":{"domain":[-1,1],"nice":false,"zero":false},"axis":{"values":[-1,0,1],"labelExpr":"datum.value > 0.5 ? '1' : datum.value < -0.5 ? '-1' : '0'","title":"y/h"}}},
"layer":[
{"data":{"name":"h"},"transform":[{"filter":"datum.p==1"}],"mark":{"type":"rule","color":"#1a1a1a","strokeWidth":1.3},"encoding":{"x2":{"field":"x2"},"y2":{"field":"y2"}}},
{"data":{"name":"l1"},"mark":{"type":"line","strokeWidth":2,"interpolate":"catmull-rom"},"encoding":{"detail":{"field":"s","type":"nominal"},"order":{"field":"y","type":"quantitative"},"color":{"datum":"LES","type":"nominal","scale":{"domain":["RANS","LES","SDD-RANS","σ"],"range":["#ff0000","#000000","#1f1fff","#9c9ccf"]},"legend":{"title":null,"orient":"none","direction":"horizontal","legendX":117,"legendY":-41,"symbolSize":400,"columnPadding":100,"labelOffset":32,"padding":6,"strokeColor":"#cccccc","fillColor":"#ffffff","cornerRadius":4,"labelFont":"Liberation Serif","labelFontSize":17,"labelColor":"#000000","encode":{"symbols":{"update":{"shape":{"signal":"datum.value==='σ'?'M-1,-0.6H3V0.6H-1Z':'M-1,0H3'"},"fill":{"signal":"datum.value==='σ'?'#9c9ccf':'transparent'"},"stroke":{"signal":"datum.value==='RANS'?'#ff0000':datum.value==='LES'?'#000000':datum.value==='SDD-RANS'?'#3a3aff':'transparent'"},"strokeWidth":{"value":2.2},"opacity":{"value":1}}},"labels":{"update":{"fontStyle":{"signal":"datum.value==='σ'?'italic':'normal'"}}}}}}}},
{"data":{"name":"r1"},"mark":{"type":"line","strokeWidth":2.6,"interpolate":"catmull-rom"},"encoding":{"detail":{"field":"s","type":"nominal"},"order":{"field":"y","type":"quantitative"},"color":{"datum":"RANS","type":"nominal"}}},
{"data":{"name":"b1"},"mark":{"type":"area","orient":"horizontal","color":"#9c9ccf","opacity":0.85,"interpolate":"catmull-rom"},"encoding":{"x":{"field":"lo","type":"quantitative","scale":{"domain":[-1,9],"nice":false,"zero":false}},"x2":{"field":"hi"},"detail":{"field":"s","type":"nominal"}}},
{"data":{"name":"d1"},"mark":{"type":"line","strokeWidth":1.8,"interpolate":"catmull-rom"},"encoding":{"detail":{"field":"s","type":"nominal"},"order":{"field":"y","type":"quantitative"},"color":{"datum":"SDD-RANS","type":"nominal"}}}
]},
{"width":951,"height":86,
"encoding":{"x":{"field":"x","type":"quantitative","scale":{"domain":[-1,9],"nice":false,"zero":false},"axis":{"values":[-1,0,1,2,3,4,5,6,7,8,9],"labels":false,"title":null}},"y":{"field":"y","type":"quantitative","scale":{"domain":[-1,1],"nice":false,"zero":false},"axis":{"values":[-1,0,1],"labelExpr":"datum.value > 0.5 ? '1' : datum.value < -0.5 ? '-1' : '0'","title":"y/h"}}},
"layer":[
{"data":{"name":"h"},"transform":[{"filter":"datum.p==2"}],"mark":{"type":"rule","color":"#1a1a1a","strokeWidth":1.3},"encoding":{"x2":{"field":"x2"},"y2":{"field":"y2"}}},
{"data":{"name":"l2"},"mark":{"type":"line","strokeWidth":2,"interpolate":"catmull-rom"},"encoding":{"detail":{"field":"s","type":"nominal"},"order":{"field":"y","type":"quantitative"},"color":{"datum":"LES","type":"nominal"}}},
{"data":{"name":"r2"},"mark":{"type":"line","strokeWidth":2.6,"interpolate":"catmull-rom"},"encoding":{"detail":{"field":"s","type":"nominal"},"order":{"field":"y","type":"quantitative"},"color":{"datum":"RANS","type":"nominal"}}},
{"data":{"name":"b2"},"mark":{"type":"area","orient":"horizontal","color":"#9c9ccf","opacity":0.85,"interpolate":"catmull-rom"},"encoding":{"x":{"field":"lo","type":"quantitative","scale":{"domain":[-1,9],"nice":false,"zero":false}},"x2":{"field":"hi"},"detail":{"field":"s","type":"nominal"}}},
{"data":{"name":"d2"},"mark":{"type":"line","strokeWidth":1.8,"interpolate":"catmull-rom"},"encoding":{"detail":{"field":"s","type":"nominal"},"order":{"field":"y","type":"quantitative"},"color":{"datum":"SDD-RANS","type":"nominal"}}}
]},
{"width":951,"height":86,
"encoding":{"x":{"field":"x","type":"quantitative","scale":{"domain":[-1,9],"nice":false,"zero":false},"axis":{"values":[-1,0,1,2,3,4,5,6,7,8,9],"labels":false,"title":null}},"y":{"field":"y","type":"quantitative","scale":{"domain":[-1,1],"nice":false,"zero":false},"axis":{"values":[-1,0,1],"labelExpr":"datum.value > 0.5 ? '1' : datum.value < -0.5 ? '-1' : '0'","title":"y/h"}}},
"layer":[
{"data":{"name":"h"},"transform":[{"filter":"datum.p==3"}],"mark":{"type":"rule","color":"#1a1a1a","strokeWidth":1.3},"encoding":{"x2":{"field":"x2"},"y2":{"field":"y2"}}},
{"data":{"name":"l3"},"mark":{"type":"line","strokeWidth":2,"interpolate":"catmull-rom"},"encoding":{"detail":{"field":"s","type":"nominal"},"order":{"field":"y","type":"quantitative"},"color":{"datum":"LES","type":"nominal"}}},
{"data":{"name":"r3"},"mark":{"type":"line","strokeWidth":2.6},"encoding":{"detail":{"field":"s","type":"nominal"},"order":{"field":"y","type":"quantitative"},"color":{"datum":"RANS","type":"nominal"}}},
{"data":{"name":"b3"},"mark":{"type":"area","orient":"horizontal","color":"#9c9ccf","opacity":0.85,"interpolate":"catmull-rom"},"encoding":{"x":{"field":"lo","type":"quantitative","scale":{"domain":[-1,9],"nice":false,"zero":false}},"x2":{"field":"hi"},"detail":{"field":"s","type":"nominal"}}},
{"data":{"name":"d3"},"mark":{"type":"line","strokeWidth":1.8,"interpolate":"catmull-rom"},"encoding":{"detail":{"field":"s","type":"nominal"},"order":{"field":"y","type":"quantitative"},"color":{"datum":"SDD-RANS","type":"nominal"}}}
]},
{"width":951,"height":86,
"encoding":{"x":{"field":"x","type":"quantitative","scale":{"domain":[-1,9],"nice":false,"zero":false},"axis":{"values":[-1,0,1,2,3,4,5,6,7,8,9],"labels":true,"labelExpr":"datum.value < -0.5 ? '-1' : format(datum.value, 'd')","labelPadding":7,"title":"x/h;   10aᵢⱼ/Ūb² + x/h","titlePadding":6}},"y":{"field":"y","type":"quantitative","scale":{"domain":[-1,1],"nice":false,"zero":false},"axis":{"values":[-1,0,1],"labelExpr":"datum.value > 0.5 ? '1' : datum.value < -0.5 ? '-1' : '0'","title":"y/h"}}},
"layer":[
{"data":{"name":"h"},"transform":[{"filter":"datum.p==4"}],"mark":{"type":"rule","color":"#1a1a1a","strokeWidth":1.3},"encoding":{"x2":{"field":"x2"},"y2":{"field":"y2"}}},
{"data":{"name":"l4"},"mark":{"type":"line","strokeWidth":2,"interpolate":"catmull-rom"},"encoding":{"detail":{"field":"s","type":"nominal"},"order":{"field":"y","type":"quantitative"},"color":{"datum":"LES","type":"nominal"}}},
{"data":{"name":"r4"},"mark":{"type":"line","strokeWidth":2.6,"interpolate":"catmull-rom"},"encoding":{"detail":{"field":"s","type":"nominal"},"order":{"field":"y","type":"quantitative"},"color":{"datum":"RANS","type":"nominal"}}},
{"data":{"name":"b4"},"mark":{"type":"area","orient":"horizontal","color":"#9c9ccf","opacity":0.85,"interpolate":"catmull-rom"},"encoding":{"x":{"field":"lo","type":"quantitative","scale":{"domain":[-1,9],"nice":false,"zero":false}},"x2":{"field":"hi"},"detail":{"field":"s","type":"nominal"}}},
{"data":{"name":"d4"},"mark":{"type":"line","strokeWidth":1.8,"interpolate":"catmull-rom"},"encoding":{"detail":{"field":"s","type":"nominal"},"order":{"field":"y","type":"quantitative"},"color":{"datum":"SDD-RANS","type":"nominal"}}}
]}
],
"config":{
"view":{"stroke":"#1a1a1a","strokeWidth":1.2},
"axis":{"grid":false,"domain":false,"tickColor":"#1a1a1a","tickSize":5,"tickWidth":1,"labelFont":"Liberation Serif","labelFontSize":14,"labelColor":"#1a1a1a","labelPadding":7,"titleFont":"Liberation Serif","titleFontSize":15,"titleFontWeight":"normal","titleFontStyle":"italic","titleColor":"#1a1a1a","titlePadding":10}
}
}
